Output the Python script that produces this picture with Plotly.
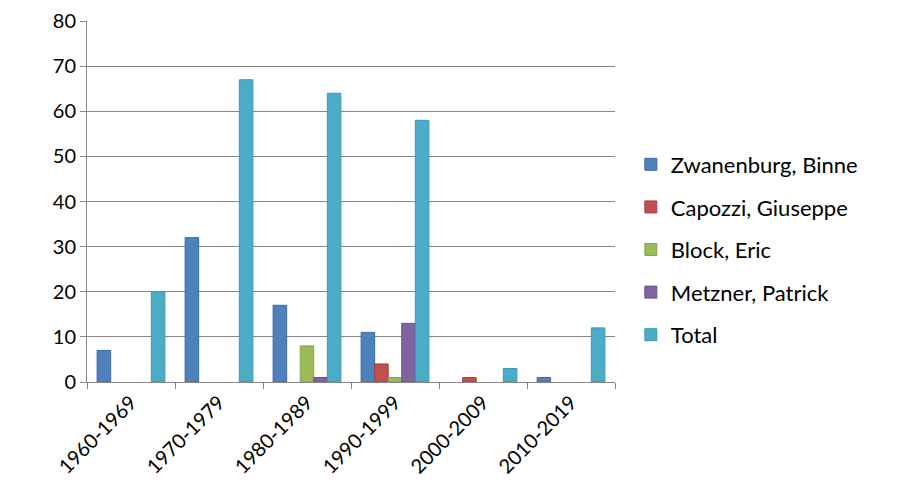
import plotly.graph_objects as go

categories = ["1960-1969", "1970-1979", "1980-1989", "1990-1999", "2000-2009", "2010-2019"]
series_names = ["Zwanenburg, Binne", "Capozzi, Giuseppe", "Block, Eric", "Metzner, Patrick", "Total"]
zwanenburg = [7, 32, 17, 11, 0, 1]
capozzi = [0, 0, 0, 4, 1, 0]
block = [0, 0, 8, 1, 0, 0]
metzner = [0, 0, 1, 13, 0, 0]
total = [20, 67, 64, 58, 3, 12]
y_ticks = [0, 10, 20, 30, 40, 50, 60, 70, 80]

colors = ["#4F81BD", "#C0504D", "#9BBB59", "#8064A2", "#4BACC6"]
borders = ["#3A6BA5", "#A8403D", "#86A54A", "#6A5090", "#3A98B2"]

fig = go.Figure()
for i, (name, vals) in enumerate(zip(series_names, [zwanenburg, capozzi, block, metzner, total])):
    fig.add_trace(go.Bar(
        x=categories, y=[v if v != 0 else None for v in vals], name=name,
        marker=dict(color=colors[i], line=dict(color=borders[i], width=1)),
        legendgroup=name,
    ))

font_family = "Lato, Open Sans, sans-serif"
fig.update_layout(
    width=900, height=495,
    margin=dict(l=79, r=293, t=13, b=121),
    paper_bgcolor="white", plot_bgcolor="white",
    barmode="group", bargap=0.23, bargroupgap=0,
    font=dict(family=font_family, size=21, color="#000000"),
    legend=dict(
        x=1.03, y=0.367, xanchor="left", yanchor="middle",
        font=dict(size=22, color="#000000"),
        traceorder="grouped", tracegroupgap=11,
        itemwidth=30,
    ),
    showlegend=True,
)
fig.update_yaxes(
    range=[0, 80.02], tickvals=y_ticks, showgrid=True, gridcolor="#868686", gridwidth=1,
    showline=True, linecolor="#868686", linewidth=1,
    ticks="outside", ticklen=6, tickcolor="#868686",
    tickfont=dict(size=20), zeroline=False, automargin=False,
    ticklabeloverflow="allow",
)
fig.update_xaxes(
    showline=True, linecolor="#868686", linewidth=1,
    ticks="outside", ticklen=6, tickcolor="#868686", tickson="boundaries",
    tickangle=-45, tickfont=dict(size=20), automargin=False,
    ticklabeloverflow="allow",
)

fig.write_html("out.html")
